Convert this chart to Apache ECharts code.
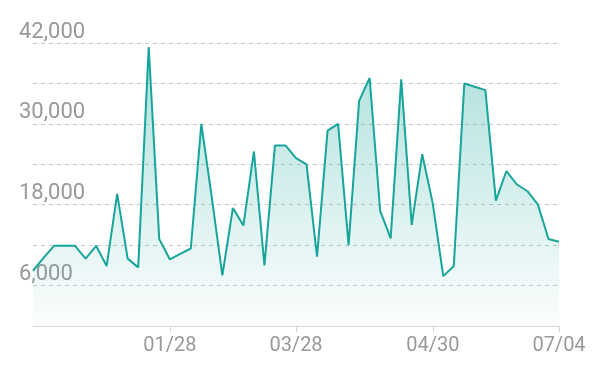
<!DOCTYPE html>
<html>
<head>
<meta charset="utf-8">
<script src="https://cdn.jsdelivr.net/npm/echarts@6/dist/echarts.min.js"></script>
<style>
  html, body { margin: 0; padding: 0; background: #fff; }
  #main { width: 602px; height: 374px; }
</style>
</head>
<body>
<div id="main"></div>
<script>
// 日期（只显示其中四个）
var dates = [
  '01/02', '01/04', '01/06', '01/08', '01/10', '01/12', '01/14', '01/16', '01/18', '01/20',
  '01/22', '01/24', '01/26', '01/28', '02/03', '02/10', '02/17', '02/24', '03/02', '03/07',
  '03/12', '03/16', '03/20', '03/23', '03/26', '03/28', '03/30', '04/02', '04/05', '04/08',
  '04/10', '04/13', '04/15', '04/17', '04/19', '04/21', '04/23', '04/26', '04/30', '05/06',
  '05/12', '05/18', '05/24', '05/30', '06/05', '06/11', '06/17', '06/22', '06/26', '06/30',
  '07/04'
];
var values = [
  8200, 10100, 11900, 11900, 11900, 10000, 11900, 8900, 19600, 10000,
  8700, 41400, 12900, 9900, 10700, 11500, 30000, 19000, 7500, 17500,
  14900, 25900, 9000, 26800, 26800, 24900, 24000, 10300, 29000, 30000,
  12000, 33400, 36800, 17100, 13000, 36600, 15000, 25500, 18200, 7400,
  8900, 36000, 35500, 35000, 18600, 23000, 21000, 20000, 18000, 12900,
  12500
];
var labelIdx = [13, 25, 38, 50];
var yTicks = [6000, 18000, 30000, 42000];

var chart = echarts.init(document.getElementById('main'));

var option = {
  animation: false,
  grid: { left: 33, right: 43, top: 43, bottom: 48 },
  xAxis: {
    type: 'category',
    boundaryGap: false,
    data: dates,
    axisLine: { lineStyle: { color: '#d6d6d6', width: 1 } },
    axisTick: {
      show: true,
      length: 6,
      interval: function (i) { return labelIdx.indexOf(i) >= 0; },
      lineStyle: { color: '#d6d6d6' }
    },
    axisLabel: {
      interval: function (i) { return labelIdx.indexOf(i) >= 0; },
      color: '#999999',
      fontSize: 20,
      fontFamily: 'Roboto',
      margin: 10
    },
    splitLine: { show: false }
  },
  yAxis: {
    type: 'value',
    min: 0,
    max: 42000,
    interval: 6000,
    axisLine: { show: false },
    axisTick: { show: false },
    axisLabel: {
      color: '#999999',
      fontSize: 22,
      fontFamily: 'Roboto',
      align: 'left',
      verticalAlign: 'bottom',
      margin: 14,
      formatter: function (v) {
        return yTicks.indexOf(v) >= 0 ? v.toLocaleString('en-US') : '';
      }
    },
    splitLine: {
      lineStyle: { color: '#c8c8c8', type: [4, 4], width: 1 }
    }
  },
  series: [
    {
      type: 'line',
      data: values,
      showSymbol: false,
      symbol: 'none',
      lineStyle: { color: '#17a59b', width: 2 },
      areaStyle: {
        color: new echarts.graphic.LinearGradient(0, 0, 0, 1, [
          { offset: 0, color: 'rgba(23,165,155,0.5)' },
          { offset: 1, color: 'rgba(23,165,155,0.02)' }
        ])
      }
    }
  ]
};
chart.setOption(option);
</script>
</body>
</html>
